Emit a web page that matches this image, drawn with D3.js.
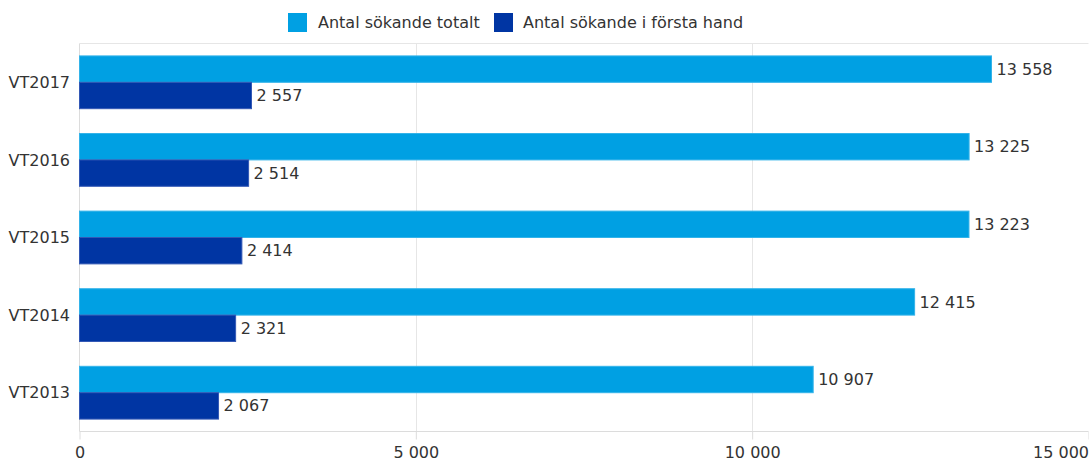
<!DOCTYPE html>
<html><head><meta charset="utf-8">
<script src="https://cdn.jsdelivr.net/npm/d3@7"></script>
<style>
body{margin:0;background:#fff;}
text{font-family:"DejaVu Sans",Verdana,sans-serif;fill:#333;}
</style></head>
<body><svg id="c" width="1089" height="463"></svg>
<script>
const categories = ["VT2017","VT2016","VT2015","VT2014","VT2013"];
const seriesNames = ["Antal sökande totalt","Antal sökande i första hand"];
const totalt = [13558,13225,13223,12415,10907];
const forstaHand = [2557,2514,2414,2321,2067];
const xTicks = [0,5000,10000,15000];
const colors = ["#00a0e3","#0035a3"];
const strokes = ["#33b3e9","#3358b5"];

const svg = d3.select("#c");
const L=79.5, R=1088.5, T=43.5, B=431.5;
const fs = 16;
const x = d3.scaleLinear().domain([0,15000]).range([L,R]);
const y = d3.scaleBand().domain(categories).range([T,B]).paddingInner(0.32).paddingOuter(0.16);
const ys = d3.scaleBand().domain([0,1]).range([0,y.bandwidth()]);
const fmt = v => d3.format(",")(v).replace(/,/g," ");

// grid
svg.append("g").selectAll("line").data(xTicks.slice(1)).join("line")
  .attr("x1",d=>Math.round(x(d))+0.5).attr("x2",d=>Math.round(x(d))+0.5)
  .attr("y1",T).attr("y2",B).attr("stroke","#e6e6e6");
svg.append("line").attr("x1",L).attr("x2",R).attr("y1",T).attr("y2",T).attr("stroke","#e6e6e6");
svg.append("line").attr("x1",L).attr("x2",L).attr("y1",T).attr("y2",B).attr("stroke","#dcdcdc");
svg.append("line").attr("x1",L).attr("x2",R).attr("y1",B).attr("y2",B).attr("stroke","#dcdcdc");

// x axis
const xa = svg.append("g").attr("transform",`translate(0,${B})`)
  .call(d3.axisBottom(x).tickValues(xTicks).tickFormat(fmt).tickSize(8));
xa.select(".domain").remove();
xa.selectAll("line").attr("stroke","#dcdcdc");
xa.selectAll("text").style("font-size",fs+"px").attr("fill","#333")
  .attr("font-family","DejaVu Sans").attr("y",26).attr("dy","0");
xa.selectAll(".tick").filter(d=>d===15000).select("text").attr("text-anchor","end").attr("dx","0");

// y labels
svg.append("g").selectAll("text").data(categories).join("text")
  .attr("x",70).attr("y",d=>y(d)+y.bandwidth()/2).attr("dy","0.35em")
  .attr("text-anchor","end").style("font-size",fs+"px").text(d=>d);

const sets=[totalt,forstaHand];
sets.forEach((vals,si)=>{
  const g=svg.append("g");
  g.selectAll("rect").data(categories).join("rect")
    .attr("x",x(0)).attr("y",(d)=>y(d)+ys(si))
    .attr("width",(d,i)=>x(vals[i])-x(0)).attr("height",ys.bandwidth())
    .attr("fill",colors[si]).attr("stroke",strokes[si]).attr("stroke-width",1);
  g.selectAll("text").data(categories).join("text")
    .attr("x",(d,i)=>x(vals[i])+5).attr("y",d=>y(d)+ys(si)+ys.bandwidth()/2).attr("dy","0.35em")
    .style("font-size",fs+"px").text((d,i)=>fmt(vals[i]));
});

// legend
const leg=[{x:288,tx:318},{x:494,tx:523}];
seriesNames.forEach((n,i)=>{
  svg.append("rect").attr("x",leg[i].x).attr("y",13).attr("width",19).attr("height",19).attr("fill",colors[i]);
  svg.append("text").attr("x",leg[i].tx).attr("y",22.5).attr("dy","0.35em").style("font-size",fs+"px").text(n);
});
</script></body></html>
